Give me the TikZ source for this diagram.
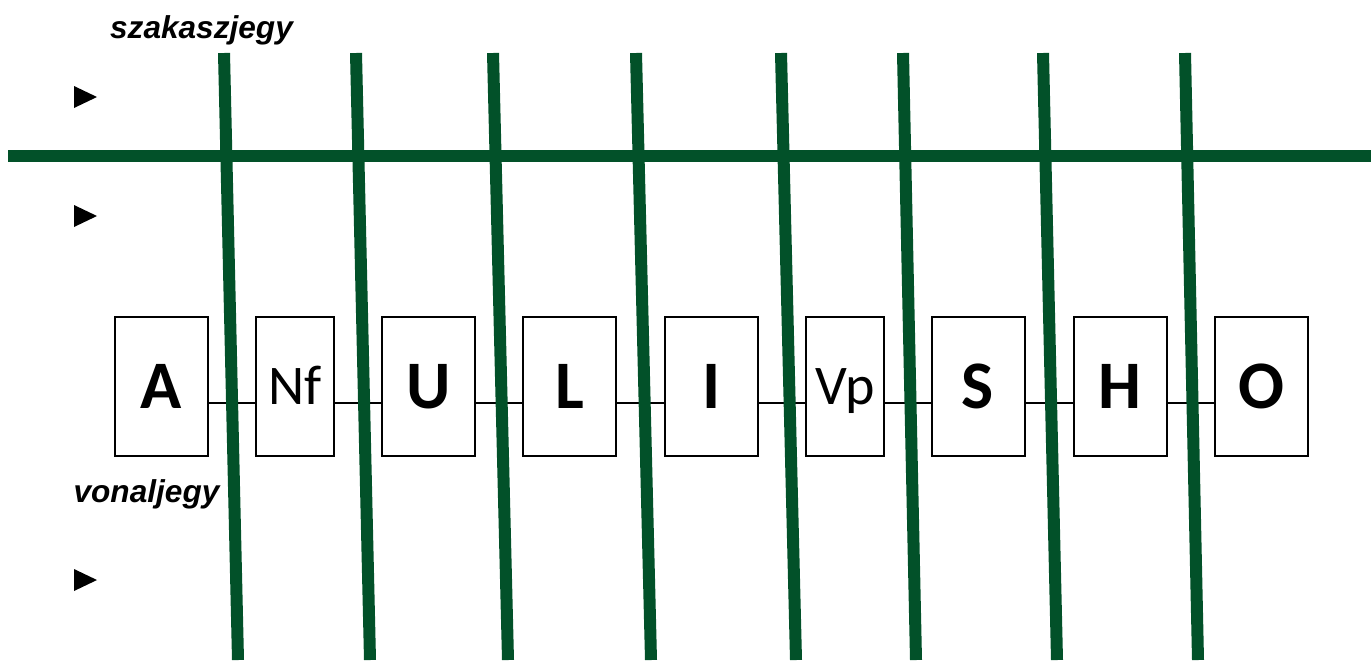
\documentclass[tikz,border=0pt]{standalone}
\usepackage{fontspec}
\setmainfont{Liberation Sans}
\newfontfamily\boxfont{Carlito}
\definecolor{railgreen}{RGB}{2,81,41}
\begin{document}
\begin{tikzpicture}[x=0.5pt,y=-0.5pt,
  rail/.style={draw=railgreen,line width=6pt,line cap=butt},
  bigbox/.style={draw=black,line width=1pt,fill=white,inner sep=0pt,minimum width=46.5pt,minimum height=69.5pt,font=\boxfont\bfseries\fontsize{34}{34}\selectfont,text height=22pt,text depth=0pt},
  smallbox/.style={draw=black,line width=1pt,fill=white,inner sep=0pt,minimum width=39pt,minimum height=69.5pt,font=\boxfont\fontsize{28}{28}\selectfont,text height=18pt,text depth=0pt},
  link/.style={draw=black,line width=0.75pt},
  lbl/.style={font=\bfseries\itshape\fontsize{15.8}{15.8}\selectfont,inner sep=0pt,anchor=base},
  tri/.style={fill=black}]
\useasboundingbox (0,0) rectangle (1371,660);
% connectors
\coordinate (ln) at (0,403);
\node[bigbox] (A) at (161.5,386.5) {A};
\node[smallbox] (Nf) at (295,386.5) {Nf};
\node[bigbox] (U) at (428.5,386.5) {U};
\node[bigbox] (L) at (569.5,386.5) {L};
\node[bigbox] (I) at (711.5,386.5) {I};
\node[smallbox] (Vp) at (845,386.5) {Vp};
\node[bigbox] (S) at (978,386.5) {S};
\node[bigbox] (H) at (1120,386.5) {H};
\node[bigbox] (O) at (1261,386.5) {O};
\foreach \a/\b in {A/Nf,Nf/U,U/L,L/I,I/Vp,Vp/S,S/H,H/O}
  \draw[link] (\a.east|-ln) -- (\b.west|-ln);
% green rails
\draw[rail] (8,156) -- (1371,156);
\foreach \t/\bt in {224/238,356/370,493/508,636/651,781/796,903/916,1043/1057,1185/1198}
  \draw[rail] (\t,53) -- (\bt,660);
% labels
\node[lbl] (szj) at (201.5,38) {szakaszjegy};
\node[lbl] (vnj) at (146.5,502) {vonaljegy};
% triangles
\fill[tri] (74,86) -- (74,108) -- (97,97) -- cycle;
\fill[tri] (74,205) -- (74,227) -- (97,216) -- cycle;
\fill[tri] (74,569) -- (74,591) -- (97,580) -- cycle;
\end{tikzpicture}
\end{document}
